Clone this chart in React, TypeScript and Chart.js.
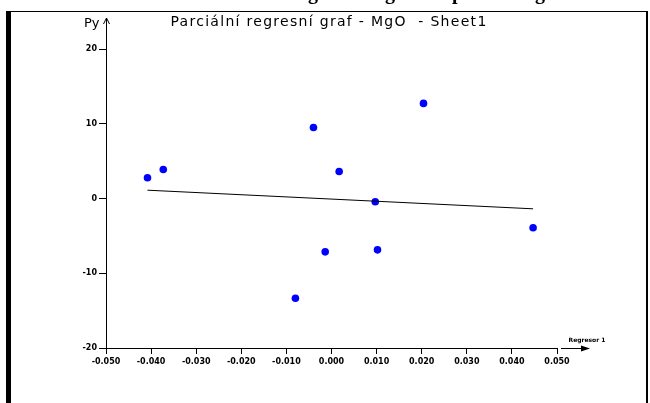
import React, { useEffect, useRef } from "react";
import { Chart, registerables } from "chart.js";

Chart.register(...registerables);

// ---- data ----
const xValues = [-0.0408, -0.0373, -0.004, 0.0017, 0.0204, 0.0097, 0.0447, -0.0014, 0.0102, -0.008];
const yValues = [2.77, 3.88, 9.5, 3.61, 12.72, -0.44, -3.92, -7.14, -6.87, -13.35];
const fitX = [-0.0408, 0.0447];
const fitY = [1.11, -1.38];
const xMin = -0.05;
const xMax = 0.05;
const xStep = 0.01;
const yMin = -20;
const yMax = 20;
const yStep = 10;
const titleText = "Parciální regresní graf - MgO  - Sheet1";
const yAxisLabel = "Py";
const xAxisLabel = "Regresor 1";
const captionWords = ["Parciální", "regresní", "graf", "pro", "MgO"];

const framePlugin = {
  id: "frame",
  beforeDraw(chart: any) {
    const ctx = chart.ctx;
    ctx.save();
    ctx.fillStyle = "#ffffff";
    ctx.fillRect(0, 0, chart.width, chart.height);
    ctx.fillStyle = "#000000";
    // top border
    ctx.fillRect(6, 11, 642, 1);
    // left thick border
    ctx.fillRect(6, 11, 5, chart.height - 11);
    // right border
    ctx.fillRect(646, 11, 2, chart.height - 11);

    // cut-off caption above the frame (only descenders visible)
    ctx.font = "bold 20px 'Liberation Serif', serif";
    ctx.textBaseline = "alphabetic";
    ctx.textAlign = "left";
    const base = -1;
    const xReg = 308 - ctx.measureText("re").width;
    const xParc = xReg - 22 - ctx.measureText(captionWords[0]).width;
    ctx.fillText(captionWords[0], xParc, base);
    ctx.fillText(captionWords[1], xReg, base);
    ctx.fillText(captionWords[2], 385, base);
    ctx.fillText(captionWords[3], 452, base);
    ctx.fillText(captionWords[4], 535 - ctx.measureText("M").width, base);

    // chart title
    ctx.font = "14px 'DejaVu Sans', sans-serif";
    ctx.textBaseline = "alphabetic";
    ctx.textAlign = "center";
    ctx.letterSpacing = "1.3px";
    ctx.fillText(titleText, 329, 26);
    ctx.letterSpacing = "0px";
    ctx.restore();
  },
  afterDraw(chart: any) {
    const ctx = chart.ctx;
    const xs = chart.scales.x;
    const ys = chart.scales.y;
    const ax = Math.round(xs.getPixelForValue(xMin)) + 0.5;
    const ay = Math.round(ys.getPixelForValue(yMin)) + 0.5;
    const topY = ys.getPixelForValue(yMax);
    const rightX = xs.getPixelForValue(xMax);
    ctx.save();
    ctx.strokeStyle = "#000";
    ctx.fillStyle = "#000";
    ctx.lineWidth = 1;
    // y axis extension + open arrow
    ctx.beginPath();
    ctx.moveTo(ax, topY);
    ctx.lineTo(ax, topY - 31);
    ctx.moveTo(ax - 3, topY - 25);
    ctx.lineTo(ax, topY - 31);
    ctx.lineTo(ax + 3, topY - 25);
    ctx.stroke();
    // x axis extension + filled arrow
    ctx.beginPath();
    ctx.moveTo(rightX + 4, ay);
    ctx.lineTo(rightX + 26, ay);
    ctx.stroke();
    ctx.beginPath();
    ctx.moveTo(rightX + 24, ay - 3);
    ctx.lineTo(rightX + 33, ay);
    ctx.lineTo(rightX + 24, ay + 3);
    ctx.closePath();
    ctx.fill();
    // axis labels
    ctx.font = "13px 'DejaVu Sans', sans-serif";
    ctx.textAlign = "right";
    ctx.textBaseline = "alphabetic";
    ctx.fillText(yAxisLabel, ax - 7, topY - 22);
    ctx.font = "bold 6px 'DejaVu Sans', sans-serif";
    ctx.textAlign = "center";
    ctx.fillText(xAxisLabel, rightX + 30, ay - 7);
    ctx.restore();
  },
};

export default function App() {
  const ref = useRef<HTMLCanvasElement>(null);
  useEffect(() => {
    if (!ref.current) return;
    const points = xValues.map((x, i) => ({ x, y: yValues[i] }));
    const fit = fitX.map((x, i) => ({ x, y: fitY[i] }));
    const tickFont = { family: "'DejaVu Sans', sans-serif", size: 8, weight: "bold" as const };
    const chart = new Chart(ref.current, {
      type: "scatter",
      data: {
        datasets: [
          {
            type: "line",
            data: fit,
            borderColor: "#000000",
            borderWidth: 1,
            pointRadius: 0,
            fill: false,
          } as any,
          {
            type: "scatter",
            data: points,
            backgroundColor: "#0000ff",
            borderColor: "#0000ff",
            borderWidth: 0,
            pointRadius: 3.8,
          },
        ],
      },
      options: {
        responsive: false,
        animation: false,
        devicePixelRatio: 1,
        layout: { padding: { top: 49, right: 93, left: 0, bottom: 0 } },
        plugins: {
          legend: { display: false },
          tooltip: { enabled: false },
          title: { display: false },
        },
        scales: {
          x: {
            type: "linear",
            min: xMin,
            max: xMax,
            afterFit: (s: any) => {
              s.height = 55;
            },
            ticks: {
              stepSize: xStep,
              color: "#000",
              font: tickFont,
              padding: 3,
              maxRotation: 0,
              autoSkip: false,
              callback: (v: any) => (Math.abs(Number(v)) < 1e-9 ? "0.000" : Number(v).toFixed(3)),
            },
            grid: { display: true, drawOnChartArea: false, drawTicks: true, tickLength: 6, color: "#000" },
            border: { display: true, color: "#000", width: 1 },
          },
          y: {
            type: "linear",
            min: yMin,
            max: yMax,
            afterFit: (s: any) => {
              s.width = 106;
            },
            ticks: {
              stepSize: yStep,
              color: "#000",
              font: tickFont,
              padding: 2,
              callback: (v: any) => String(v),
            },
            grid: { display: true, drawOnChartArea: false, drawTicks: true, tickLength: 7, color: "#000" },
            border: { display: true, color: "#000", width: 1 },
          },
        },
      },
      plugins: [framePlugin],
    });
    return () => chart.destroy();
  }, []);
  return (
    <div style={{ position: "absolute", left: 0, top: 0, width: 650, height: 403 }}>
      <canvas ref={ref} width={650} height={403} style={{ width: 650, height: 403, display: "block" }} />
    </div>
  );
}
